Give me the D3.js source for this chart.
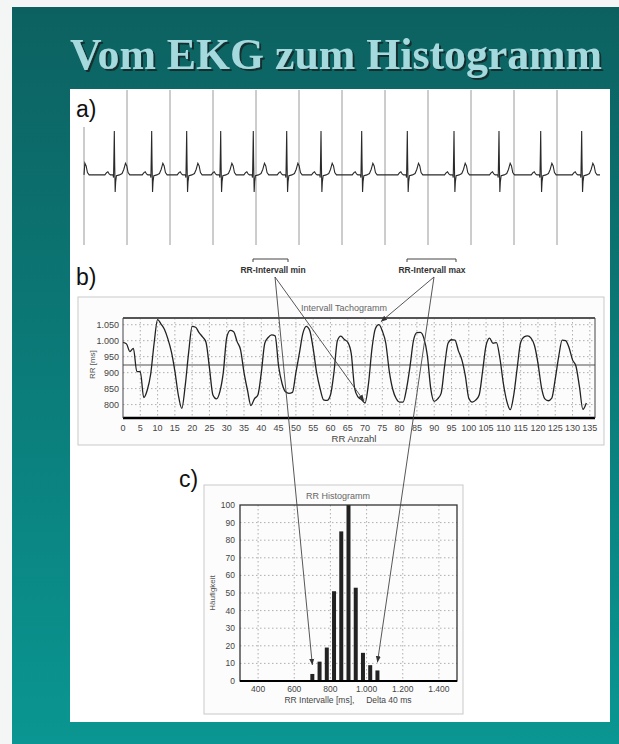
<!DOCTYPE html>
<html>
<head>
<meta charset="utf-8">
<script src="https://cdn.jsdelivr.net/npm/d3@7"></script>
<style>
  body { margin: 0; background: #fff; }
  svg { display: block; }
  text { font-family: "Liberation Sans", Arial, sans-serif; }
  text.title { font-family: "Liberation Serif", "Times New Roman", serif; font-weight: bold; }
</style>
</head>
<body>
<svg id="chart" width="619" height="744"></svg>
<script>
// a) EKG: R-Zacken (s) und Form eines Schlags [t relativ zu R (s), mV]
const ecgBeats = [-0.24, 0.705, 1.574, 2.388, 3.179, 3.937, 4.714, 5.512, 6.458, 7.519, 8.605, 9.651, 10.621, 11.574];
const beatShape = [
  [-0.22, 0], [-0.18, 0.05], [-0.15, 0.07], [-0.12, 0.02], [-0.09, 0],
  [-0.03, 0], [-0.018, -0.06], [-0.006, 0.6], [0, 0.98], [0.008, 0.3],
  [0.02, -0.38], [0.032, -0.15], [0.05, -0.02], [0.12, 0], [0.18, 0.03],
  [0.22, 0.12], [0.26, 0.26], [0.29, 0.2], [0.32, 0.05], [0.36, 0]
];
const secondMarks = [0, 1, 2, 3, 4, 5, 6, 7, 8, 9, 10, 11];

// b) Intervall Tachogramm: RR-Intervalle (ms) je Schlag
const rrValues = [
  995, 990, 966, 976, 903, 903, 822, 845, 895, 992,
  1066, 1052, 1035, 1005, 965, 905, 830, 788, 860, 965,
  1045, 1042, 1025, 1012, 995, 915, 830, 818, 840, 900,
  1010, 1032, 1028, 997, 971, 900, 845, 797, 818, 830,
  900, 992, 1010, 1018, 1015, 920, 866, 840, 835, 838,
  900, 960, 1022, 1045, 1032, 975, 900, 850, 815, 813,
  830, 900, 1000, 1014, 1004, 995, 960, 850, 823, 815,
  805, 866, 975, 1038, 1050, 1030, 992, 905, 848, 819,
  808, 808, 850, 919, 1000, 1025, 1026, 1008, 955, 850,
  810, 818, 835, 920, 992, 1003, 1002, 968, 940, 890,
  820, 808, 814, 830, 905, 985, 1008, 992, 994, 945,
  866, 810, 784, 830, 915, 995, 1012, 1015, 1008, 985,
  930, 855, 818, 812, 820, 880, 950, 1002, 1000, 978,
  940, 920, 856, 785, 805
];
const rrMean = 924;
const tachoYTicks = [800, 850, 900, 950, 1000, 1050];
const tachoXTicks = d3.range(0, 136, 5);

// c) RR Histogramm: Klassen (ms, Delta 40 ms) und Häufigkeit
const histBins = [700, 740, 780, 820, 860, 900, 940, 980, 1020, 1060];
const histCounts = [4, 11, 19, 51, 85, 100, 53, 16, 9, 6];
const histXTicks = [400, 600, 800, 1000, 1200, 1400];
const histYTicks = [0, 10, 20, 30, 40, 50, 60, 70, 80, 90, 100];

const de = d3.formatLocale({ decimal: ",", thousands: ".", grouping: [3], currency: ["", " €"] });
const fmt = de.format(",d");

const svg = d3.select("#chart");

// Hintergrund
const defs = svg.append("defs");
const grad = defs.append("linearGradient").attr("id", "bg").attr("x1", 0).attr("y1", 0).attr("x2", 0).attr("y2", 1);
grad.append("stop").attr("offset", "0%").attr("stop-color", "#0c6160");
grad.append("stop").attr("offset", "100%").attr("stop-color", "#0a9692");
defs.append("filter").attr("id", "shadow").attr("x", "-5%").attr("y", "-20%").attr("width", "110%").attr("height", "150%")
  .append("feDropShadow").attr("dx", 2).attr("dy", 2).attr("stdDeviation", 0.6)
  .attr("flood-color", "#132626").attr("flood-opacity", 0.9);

svg.append("rect").attr("width", 619).attr("height", 744).attr("fill", "#f4f6f6");
svg.append("rect").attr("x", 12).attr("y", 7).attr("width", 607).attr("height", 737).attr("fill", "url(#bg)");

// Titel
svg.append("text").attr("class", "title").attr("x", 70).attr("y", 69)
  .attr("font-size", 44).attr("textLength", 532).attr("lengthAdjust", "spacingAndGlyphs")
  .attr("fill", "#a4d9de").attr("filter", "url(#shadow)")
  .text("Vom EKG zum Histogramm");

// weisse Fläche
svg.append("rect").attr("x", 70).attr("y", 89).attr("width", 540).attr("height", 633).attr("fill", "#fff");

// ---------- a) EKG ----------
const ex = d3.scaleLinear().domain([0, 12]).range([84, 600]);
const ey = d3.scaleLinear().domain([-0.5, 1.0]).range([197.3, 130]);

svg.selectAll(".sec").data(secondMarks).enter().append("line")
  .attr("x1", d => ex(d)).attr("x2", d => ex(d))
  .attr("y1", d => d === 0 ? 127 : 90).attr("y2", 245)
  .attr("stroke", "#9a9a9a").attr("stroke-width", 1);

const ecgPoints = [[0, 0]];
ecgBeats.forEach(r => beatShape.forEach(p => ecgPoints.push([r + p[0], p[1]])));
ecgPoints.push([12, 0]);
const ecgClean = ecgPoints.filter(p => p[0] >= 0 && p[0] <= 12).sort((a, b) => a[0] - b[0]);

svg.append("path").datum(ecgClean)
  .attr("d", d3.line().x(d => ex(d[0])).y(d => ey(d[1])))
  .attr("fill", "none").attr("stroke", "#2a2a2a").attr("stroke-width", 1.1);

// Panel-Buchstaben
[["a)", 76, 117], ["b)", 76, 285], ["c)", 179, 487]].forEach(l => {
  svg.append("text").attr("x", l[1]).attr("y", l[2]).text(l[0])
    .attr("font-size", 23).attr("fill", "#111");
});

// ---------- b) Tachogramm ----------
svg.append("rect").attr("x", 78).attr("y", 297).attr("width", 526).attr("height", 148)
  .attr("fill", "#fcfcfc").attr("stroke", "#c9c9c9");

const tx = d3.scaleLinear().domain([0, 136.5]).range([123, 595]);
const ty = d3.scaleLinear().domain([758, 1071]).range([418, 318]);

const tg = svg.append("g");
tg.selectAll(".vg").data(tachoXTicks.filter(d => d > 0)).enter().append("line")
  .attr("x1", d => tx(d)).attr("x2", d => tx(d)).attr("y1", ty(1071)).attr("y2", ty(758))
  .attr("stroke", "#9a9a9a").attr("stroke-dasharray", "1.5,2.5").attr("stroke-width", 0.8);
tg.selectAll(".hg").data(tachoYTicks).enter().append("line")
  .attr("x1", tx(0)).attr("x2", tx(136.5)).attr("y1", d => ty(d)).attr("y2", d => ty(d))
  .attr("stroke", "#9a9a9a").attr("stroke-dasharray", "1.5,2.5").attr("stroke-width", 0.8);

tg.append("line").attr("x1", tx(0)).attr("x2", tx(136.5)).attr("y1", ty(rrMean)).attr("y2", ty(rrMean))
  .attr("stroke", "#8a8a8a").attr("stroke-width", 1.4);

tg.append("path").datum(rrValues)
  .attr("d", d3.line().curve(d3.curveMonotoneX).x((d, i) => tx(i)).y(d => ty(d)))
  .attr("fill", "none").attr("stroke", "#222").attr("stroke-width", 1.3);

// Rahmen
tg.append("line").attr("x1", tx(0)).attr("x2", tx(136.5)).attr("y1", ty(1071)).attr("y2", ty(1071))
  .attr("stroke", "#555").attr("stroke-width", 2);
tg.append("line").attr("x1", tx(0)).attr("x2", tx(136.5)).attr("y1", ty(758)).attr("y2", ty(758))
  .attr("stroke", "#000").attr("stroke-width", 2.5);
[0, 136.5].forEach(v => tg.append("line").attr("x1", tx(v)).attr("x2", tx(v))
  .attr("y1", ty(1071)).attr("y2", ty(758)).attr("stroke", "#444").attr("stroke-width", 1));

tg.selectAll(".yl").data(tachoYTicks).enter().append("text")
  .attr("x", tx(0) - 4).attr("y", d => ty(d) + 3.5).attr("text-anchor", "end")
  .attr("font-size", 9).attr("fill", "#444").text(d => fmt(d));
tg.selectAll(".xl").data(tachoXTicks).enter().append("text")
  .attr("x", d => tx(d)).attr("y", 431).attr("text-anchor", "middle")
  .attr("font-size", 9).attr("fill", "#444").text(d => d);
tg.append("text").attr("x", 354).attr("y", 442).attr("text-anchor", "middle")
  .attr("font-size", 9.5).attr("fill", "#444").text("RR Anzahl");
tg.append("text").attr("transform", "translate(95," + ty(925) + ") rotate(-90)")
  .attr("text-anchor", "middle").attr("font-size", 8).attr("fill", "#555").text("RR [ms]");
tg.append("text").attr("x", 344).attr("y", 311).attr("text-anchor", "middle")
  .attr("font-size", 9).attr("fill", "#666").text("Intervall Tachogramm");

// ---------- c) Histogramm ----------
svg.append("rect").attr("x", 204).attr("y", 485).attr("width", 259).attr("height", 229)
  .attr("fill", "#fcfcfc").attr("stroke", "#c9c9c9");

const hx = d3.scaleLinear().domain([300, 1500]).range([240, 457]);
const hy = d3.scaleLinear().domain([0, 100]).range([681, 505]);

const hg = svg.append("g");
hg.selectAll(".vg").data(histXTicks).enter().append("line")
  .attr("x1", d => hx(d)).attr("x2", d => hx(d)).attr("y1", hy(100)).attr("y2", hy(0))
  .attr("stroke", "#9a9a9a").attr("stroke-dasharray", "1.5,2.5").attr("stroke-width", 0.8);
hg.selectAll(".hg").data(histYTicks.filter(d => d > 0 && d < 100)).enter().append("line")
  .attr("x1", hx(300)).attr("x2", hx(1500)).attr("y1", d => hy(d)).attr("y2", d => hy(d))
  .attr("stroke", "#9a9a9a").attr("stroke-dasharray", "1.5,2.5").attr("stroke-width", 0.8);

hg.selectAll(".bar").data(histBins).enter().append("rect")
  .attr("x", d => hx(d) - 2).attr("width", 4)
  .attr("y", (d, i) => hy(histCounts[i])).attr("height", (d, i) => hy(0) - hy(histCounts[i]))
  .attr("fill", "#222");

hg.append("rect").attr("x", hx(300)).attr("y", hy(100)).attr("width", hx(1500) - hx(300)).attr("height", hy(0) - hy(100))
  .attr("fill", "none").attr("stroke", "#333").attr("stroke-width", 1.3);
hg.append("line").attr("x1", hx(300)).attr("x2", hx(1500)).attr("y1", hy(0)).attr("y2", hy(0))
  .attr("stroke", "#000").attr("stroke-width", 2.2);

hg.selectAll(".yl").data(histYTicks).enter().append("text")
  .attr("x", hx(300) - 5).attr("y", d => hy(d) + 3).attr("text-anchor", "end")
  .attr("font-size", 8.5).attr("fill", "#444").text(d => d);
hg.selectAll(".xl").data(histXTicks).enter().append("text")
  .attr("x", d => hx(d)).attr("y", 692).attr("text-anchor", "middle")
  .attr("font-size", 8.5).attr("fill", "#444").text(d => fmt(d));
hg.append("text").attr("x", 348).attr("y", 703).attr("text-anchor", "middle")
  .attr("font-size", 8.5).attr("fill", "#444").attr("xml:space", "preserve").text("RR Intervalle [ms],     Delta 40 ms");
hg.append("text").attr("transform", "translate(215," + hy(50) + ") rotate(-90)")
  .attr("text-anchor", "middle").attr("font-size", 8).attr("fill", "#555").text("Häufigkeit");
hg.append("text").attr("x", 338).attr("y", 499).attr("text-anchor", "middle")
  .attr("font-size", 9).attr("fill", "#666").text("RR Histogramm");

// ---------- Beschriftung min / max mit Pfeilen ----------
defs.append("marker").attr("id", "arr").attr("viewBox", "0 0 10 10").attr("refX", 10).attr("refY", 5)
  .attr("markerWidth", 7).attr("markerHeight", 7).attr("orient", "auto")
  .append("path").attr("d", "M0,1 L10,5 L0,9 Z").attr("fill", "#333");

const notes = [
  { label: "RR-Intervall min", cx: 273, x0: 253, x1: 288,
    targets: [[tx(70) - 1, ty(805) - 2], [hx(700), hy(4) - 9]] },
  { label: "RR-Intervall max", cx: 432, x0: 407, x1: 456,
    targets: [[tx(74) + 2, ty(1050) - 3], [hx(1060), hy(6) - 8]] }
];
notes.forEach(n => {
  svg.append("path").attr("d", `M${n.x0},262 V259 H${n.x1} V262`)
    .attr("fill", "none").attr("stroke", "#444").attr("stroke-width", 1);
  svg.append("text").attr("x", n.cx).attr("y", 273).attr("text-anchor", "middle")
    .attr("font-size", 8.5).attr("font-weight", "bold").attr("fill", "#333").text(n.label);
  n.targets.forEach(t => {
    svg.append("line").attr("x1", n.cx + 2).attr("y1", 277).attr("x2", t[0]).attr("y2", t[1])
      .attr("stroke", "#444").attr("stroke-width", 0.9).attr("marker-end", "url(#arr)");
  });
});
</script>
</body>
</html>
